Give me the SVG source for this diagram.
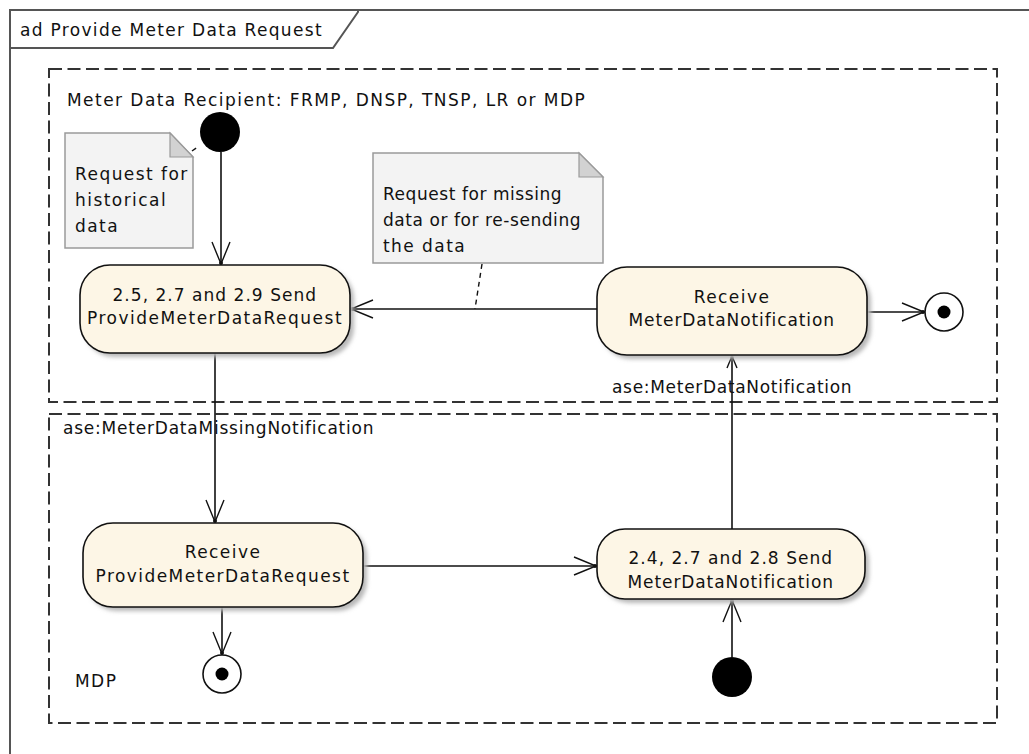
<svg xmlns="http://www.w3.org/2000/svg" width="1029" height="754" viewBox="0 0 1029 754">
<style>
text{font-family:"DejaVu Sans","Liberation Sans",sans-serif;font-size:17px;fill:#111;letter-spacing:1.45px}
.c{text-anchor:middle}
.lane{fill:none;stroke:#333;stroke-width:2;stroke-dasharray:13 5.5}
.act{fill:#fdf6e6;stroke:#111;stroke-width:1.6}
.shadow{fill:#b8b8b8;filter:url(#blur)}
.note{fill:#f3f3f3;stroke:#9a9a9a;stroke-width:1.5}
.fold{fill:#d2d2d2;stroke:#9a9a9a;stroke-width:1.2}
.edge{fill:none;stroke:#111;stroke-width:1.6}
.dash{fill:none;stroke:#111;stroke-width:1.4;stroke-dasharray:5 4}
</style>
<defs>
<filter id="blur" x="-10%" y="-10%" width="120%" height="130%"><feGaussianBlur stdDeviation="2"/></filter>
<marker id="arr" markerUnits="userSpaceOnUse" markerWidth="26" markerHeight="22" viewBox="-24 -11 26 22" refX="0" refY="0" orient="auto">
<path d="M-22,-9 L0,0 L-22,9" fill="none" stroke="#111" stroke-width="1.4"/>
<circle cx="-1" cy="0" r="2" fill="#111"/>
</marker>
<marker id="arrs" markerUnits="userSpaceOnUse" markerWidth="16" markerHeight="14" viewBox="-14 -7 16 14" refX="0" refY="0" orient="auto">
<path d="M-12,-5 L0,0 L-12,5" fill="none" stroke="#111" stroke-width="1.4"/>
<circle cx="-1" cy="0" r="1.6" fill="#111"/>
</marker>
</defs>
<rect width="1029" height="754" fill="#fff"/>
<g id="frame">
<rect x="10" y="10" width="1040" height="780" fill="none" stroke="#555" stroke-width="2"/>
<path d="M10,48 L333,48 L358,12 L358,10" fill="none" stroke="#555" stroke-width="2"/>
<text x="20" y="36" textLength="303" lengthAdjust="spacing">ad Provide Meter Data Request</text>
</g>
<g id="lane-recipient">
<rect class="lane" x="49" y="69" width="948" height="333"/>
<text x="67" y="106">Meter Data Recipient: FRMP, DNSP, TNSP, LR or MDP</text>
</g>
<g id="lane-mdp">
<rect class="lane" x="49" y="414" width="948" height="309"/>
<text x="75" y="687">MDP</text>
</g>
<g id="connectors">
<line class="edge" x1="221" y1="152" x2="221" y2="264" marker-end="url(#arr)"/>
<line class="edge" x1="597" y1="309" x2="351" y2="309" marker-end="url(#arr)"/>
<line class="edge" x1="867" y1="312" x2="924" y2="312" marker-end="url(#arr)"/>
<line class="edge" x1="215" y1="353" x2="215" y2="522" marker-end="url(#arr)"/>
<line class="edge" x1="222" y1="607" x2="222" y2="654" marker-end="url(#arr)"/>
<line class="edge" x1="363" y1="566" x2="596" y2="566" marker-end="url(#arr)"/>
<line class="edge" x1="732" y1="657" x2="732" y2="600" marker-end="url(#arr)"/>
<line class="edge" x1="732" y1="529" x2="732" y2="356" marker-end="url(#arrs)"/>
<line class="dash" x1="482" y1="264" x2="475" y2="309"/>
<line class="dash" x1="192" y1="151" x2="199" y2="146"/>
<text x="612" y="393" textLength="241" lengthAdjust="spacing">ase:MeterDataNotification</text>
<text x="63" y="434" textLength="312" lengthAdjust="spacing">ase:MeterDataMissingNotification</text>
</g>
<g id="note-historical">
<path class="note" d="M65,133 L170,133 L193,157 L193,248 L65,248 Z"/>
<path class="fold" d="M170,133 L170,157 L193,157 Z"/>
<text x="75" y="180">Request for</text>
<text x="75" y="206">historical</text>
<text x="75" y="232">data</text>
</g>
<g id="note-missing">
<path class="note" d="M373,153 L579,153 L603,177 L603,263 L373,263 Z"/>
<path class="fold" d="M579,153 L579,177 L603,177 Z"/>
<text x="383" y="200" textLength="180" lengthAdjust="spacing">Request for missing</text>
<text x="383" y="226" textLength="199" lengthAdjust="spacing">data or for re-sending</text>
<text x="383" y="252">the data</text>
</g>
<g id="start-recipient">
<circle cx="220" cy="132" r="20" fill="#000"/>
</g>
<g id="send-request">
<rect class="shadow" x="84" y="269" width="270" height="88" rx="30"/>
<rect class="act" x="80" y="265" width="270" height="88" rx="30"/>
<text class="c" x="215" y="301" textLength="205" lengthAdjust="spacing">2.5, 2.7 and 2.9 Send</text>
<text class="c" x="215" y="324" textLength="256" lengthAdjust="spacing">ProvideMeterDataRequest</text>
</g>
<g id="receive-notification">
<rect class="shadow" x="601" y="271" width="270" height="88" rx="30"/>
<rect class="act" x="597" y="267" width="270" height="88" rx="30"/>
<text class="c" x="732" y="303">Receive</text>
<text class="c" x="732" y="326" textLength="207" lengthAdjust="spacing">MeterDataNotification</text>
</g>
<g id="final-recipient">
<circle cx="944" cy="312" r="19" fill="#fff" stroke="#111" stroke-width="1.6"/>
<circle cx="944" cy="312" r="6.5" fill="#000"/>
</g>
<g id="receive-request">
<rect class="shadow" x="87" y="527" width="280" height="84" rx="30"/>
<rect class="act" x="83" y="523" width="280" height="84" rx="30"/>
<text class="c" x="223" y="558">Receive</text>
<text class="c" x="223" y="582" textLength="255" lengthAdjust="spacing">ProvideMeterDataRequest</text>
</g>
<g id="final-mdp">
<circle cx="222" cy="674" r="19" fill="#fff" stroke="#111" stroke-width="1.6"/>
<circle cx="222" cy="674" r="6.5" fill="#000"/>
</g>
<g id="send-notification">
<rect class="shadow" x="601" y="533" width="268" height="70" rx="28"/>
<rect class="act" x="597" y="529" width="268" height="70" rx="28"/>
<text class="c" x="731" y="564" textLength="205" lengthAdjust="spacing">2.4, 2.7 and 2.8 Send</text>
<text class="c" x="731" y="588" textLength="207" lengthAdjust="spacing">MeterDataNotification</text>
</g>
<g id="start-mdp">
<circle cx="732" cy="677" r="20" fill="#000"/>
</g>
</svg>
